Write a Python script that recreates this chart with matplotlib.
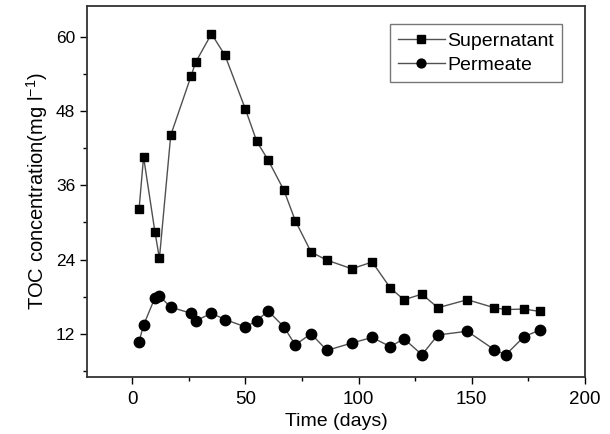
import matplotlib
matplotlib.use("Agg")
import matplotlib.pyplot as plt
from matplotlib.ticker import MultipleLocator

plt.rcParams['font.family'] = ['Liberation Sans', 'DejaVu Sans']

# 데이터
sup_days = [3, 5, 10, 12, 17, 26, 28, 35, 41, 50, 55, 60, 67, 72, 79, 86,
            97, 106, 114, 120, 128, 135, 148, 160, 165, 173, 180]
sup_toc = [32.1, 40.6, 28.5, 24.2, 44.1, 53.7, 55.9, 60.5, 57.0, 48.3, 43.1, 40.1,
           35.2, 30.3, 25.2, 23.9, 22.5, 23.6, 19.4, 17.5, 18.4, 16.2, 17.5, 16.2,
           15.9, 16.0, 15.6]

perm_days = [3, 5, 10, 12, 17, 26, 28, 35, 41, 50, 55, 60, 67, 72, 79, 86,
             97, 106, 114, 120, 128, 135, 148, 160, 165, 173, 180]
perm_toc = [10.7, 13.4, 17.8, 18.1, 16.3, 15.3, 14.1, 15.3, 14.3, 13.1, 14.1, 15.7,
            13.1, 10.2, 12.0, 9.3, 10.5, 11.4, 9.9, 11.2, 8.6, 11.8, 12.4, 9.4,
            8.6, 11.5, 12.6]

fig = plt.figure(figsize=(6.1, 4.34), dpi=100)
ax = fig.add_axes([0.1426, 0.1313, 0.8164, 0.8549])

ax.plot(sup_days, sup_toc, color='#505050', lw=1.0, marker='s', ms=6.3,
        mfc='black', mec='black', label='Supernatant')
ax.plot(perm_days, perm_toc, color='#505050', lw=1.0, marker='o', ms=7.5,
        mfc='black', mec='black', label='Permeate')

ax.set_xlim(-20, 200)
ax.set_ylim(5, 65)
ax.xaxis.set_major_locator(MultipleLocator(50))
ax.xaxis.set_minor_locator(MultipleLocator(25))
ax.yaxis.set_minor_locator(MultipleLocator(6))
ax.set_yticks([12, 24, 36, 48, 60])
ax.tick_params(which='both', direction='out', top=False, right=False)
ax.tick_params(axis='x', labelsize=13.5, pad=5)
ax.tick_params(axis='y', labelsize=12.5)
ax.tick_params(which='major', length=5, width=1)
ax.tick_params(which='minor', length=3, width=1)
for s in ax.spines.values():
    s.set_linewidth(1.3)
    s.set_color('#333333')

ax.set_xlabel('Time (days)', fontsize=14, labelpad=4)
ax.set_ylabel(r'TOC concentration(mg l$^{\mathregular{-1}}$)', fontsize=14.5, labelpad=4)

leg = ax.legend(loc='upper right', bbox_to_anchor=(0.954, 0.951), borderaxespad=0,
                fontsize=14, frameon=True, fancybox=False, edgecolor='#555555',
                handlelength=2.4, handletextpad=0.15, borderpad=0.4, labelspacing=0.35,
                markerscale=0.85)
leg.get_frame().set_linewidth(1.0)

plt.savefig('out.png', dpi=100)
